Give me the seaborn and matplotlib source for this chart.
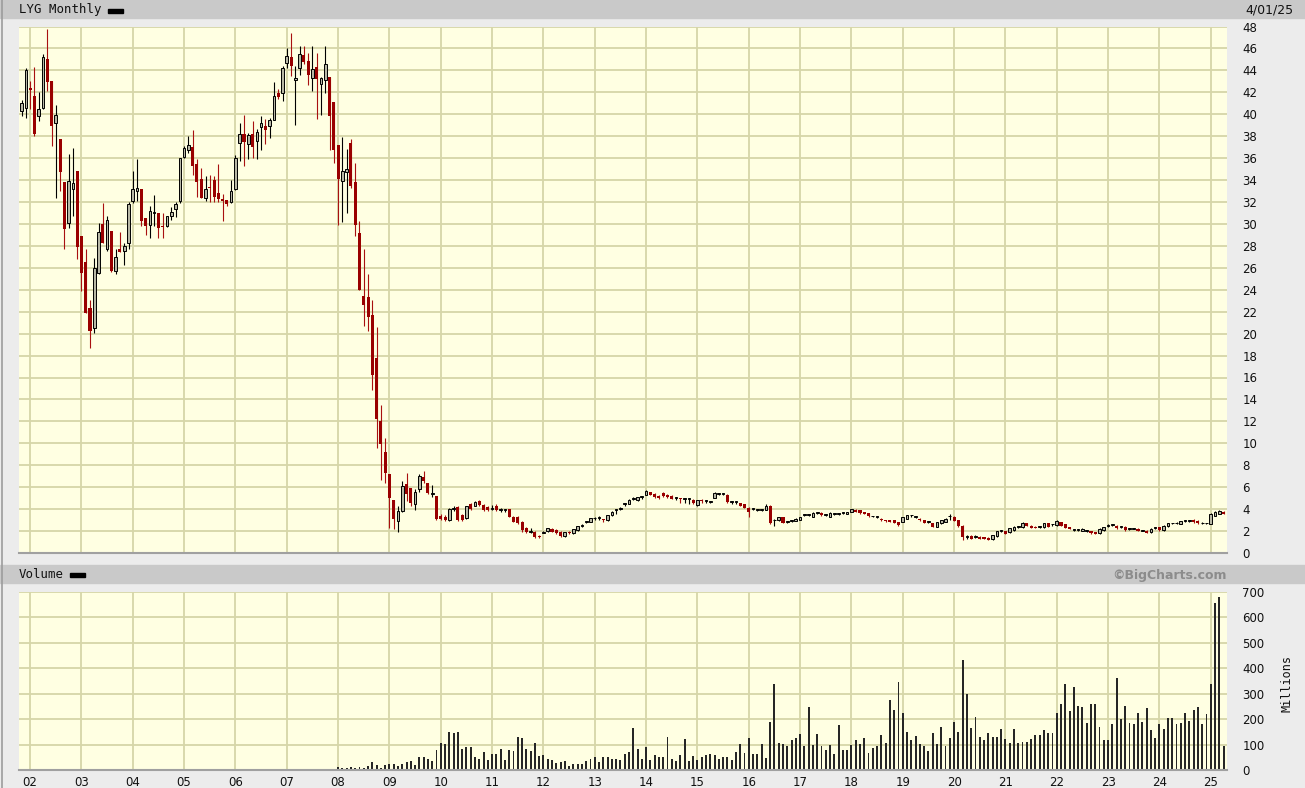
import numpy as np
import pandas as pd
import seaborn as sns
import matplotlib.pyplot as plt
from matplotlib.patches import Rectangle
from matplotlib.lines import Line2D

# monthly bars Nov 2001 .. Apr 2025 (one row per year in the lists below)
months = pd.period_range('2001-11', '2025-04', freq='M')

opens = [
    40.3, 40.6,
    42.4, 41.7, 39.85, 40.6, 45.0, 43.0, 39.2, 37.7, 33.8, 30.1, 33.2, 34.8,
    28.9, 26.5, 22.3, 20.5, 25.5, 29.95, 27.7, 29.4, 25.7, 27.7, 27.5, 28.3,
    32.1, 33.0, 33.2, 30.5, 29.9, 31.0, 31.0, 29.8, 29.8, 30.7, 31.4, 32.1,
    36.1, 36.7, 37.0, 35.5, 34.1, 32.4, 33.4, 34.0, 32.8, 32.3, 32.2, 32.0,
    33.2, 37.4, 38.2, 37.3, 38.2, 37.6, 38.8, 38.9, 38.9, 39.5, 41.9, 41.9,
    44.7, 45.2, 43.1, 44.2, 45.4, 44.9, 43.35, 44.3, 42.8, 43.1, 43.4, 41.1,
    37.2, 33.9, 34.7, 37.4, 33.8, 29.2, 23.4, 23.3, 21.7, 17.8, 12.0, 9.2,
    7.2, 4.8, 2.9, 3.8, 6.3, 5.9, 4.5, 5.8, 6.9, 6.4, 5.4, 5.2,
    3.4, 3.3, 3.0, 4.0, 4.15, 3.45, 3.15, 4.5, 4.3, 4.7, 4.35, 4.2,
    4.05, 4.25, 3.95, 3.9, 4.0, 3.3, 3.3, 2.85, 2.3, 1.95, 1.95, 1.55,
    1.85, 2.0, 2.15, 2.1, 1.95, 1.55, 1.95, 1.8, 2.1, 2.5, 2.8, 2.85,
    3.15, 3.2, 3.05, 3.0, 3.45, 3.9, 4.0, 4.5, 4.5, 4.95, 4.8, 5.1,
    5.33, 5.55, 5.4, 5.2, 5.45, 5.33, 5.24, 5.0, 5.0, 4.95, 4.9, 4.85,
    4.4, 4.8, 4.73, 4.64, 5.05, 5.4, 5.4, 5.33, 4.64, 4.64, 4.55, 4.48,
    4.1, 4.03, 3.94, 3.94, 3.94, 4.24, 2.97, 2.97, 3.27, 2.82, 2.91, 2.91,
    3.03, 3.48, 3.48, 3.27, 3.67, 3.67, 3.48, 3.3, 3.58, 3.58, 3.64, 3.58,
    3.73, 3.94, 3.88, 3.73, 3.64, 3.33, 3.27, 3.12, 3.03, 2.97, 2.97, 2.82,
    2.82, 3.12, 3.42, 3.27, 3.12, 2.97, 2.82, 2.73, 2.36, 2.7, 2.82, 3.33,
    3.3, 3.0, 2.5, 1.5, 1.55, 1.5, 1.5, 1.45, 1.4, 1.25, 1.55, 2.0,
    2.0, 1.9, 2.1, 2.35, 2.35, 2.7, 2.5, 2.4, 2.35, 2.35, 2.7, 2.6,
    2.55, 2.8, 2.6, 2.35, 2.1, 2.1, 2.05, 2.0, 2.0, 1.9, 1.8, 2.1,
    2.5, 2.55, 2.5, 2.35, 2.4, 2.2, 2.2, 2.2, 2.05, 2.05, 1.9, 2.3,
    2.35, 2.1, 2.45, 2.7, 2.7, 2.65, 2.95, 2.95, 3.0, 2.95, 2.7, 2.7,
    2.65, 3.4, 3.6, 3.75,
]

highs = [
    41.3, 44.2,
    43.0, 44.3, 42.0, 45.5, 47.8, 43.0, 40.8, 37.7, 33.8, 36.4, 36.9, 34.8,
    28.9, 27.7, 23.1, 26.9, 30.1, 31.9, 30.7, 29.4, 27.7, 29.3, 28.3, 32.0,
    34.8, 35.9, 33.2, 30.5, 31.6, 32.6, 31.0, 31.0, 30.7, 31.5, 32.0, 36.0,
    37.1, 38.0, 38.6, 35.9, 35.1, 34.4, 34.5, 34.4, 35.5, 32.7, 32.2, 34.0,
    36.3, 39.2, 39.9, 38.3, 39.4, 38.7, 39.8, 39.6, 39.7, 42.9, 42.3, 44.4,
    46.0, 47.4, 44.4, 46.2, 46.2, 45.6, 46.2, 45.6, 43.4, 46.2, 43.4, 41.1,
    37.2, 37.9, 36.8, 37.7, 35.6, 30.3, 27.7, 25.4, 23.1, 20.6, 13.5, 10.5,
    7.2, 4.8, 4.3, 6.6, 7.3, 5.9, 5.8, 7.2, 7.5, 6.4, 6.2, 5.2,
    3.6, 3.5, 4.1, 4.3, 4.3, 3.55, 4.3, 4.6, 4.75, 4.85, 4.45, 4.3,
    4.4, 4.5, 4.1, 4.05, 4.05, 3.35, 3.35, 2.9, 2.4, 2.3, 2.0, 1.65,
    2.05, 2.3, 2.25, 2.15, 2.0, 1.95, 2.0, 2.2, 2.5, 2.65, 2.95, 3.2,
    3.3, 3.35, 3.1, 3.5, 3.85, 4.0, 4.15, 4.6, 4.9, 5.1, 5.15, 5.2,
    5.75, 5.6, 5.5, 5.3, 5.55, 5.4, 5.3, 5.1, 5.05, 5.0, 4.95, 4.9,
    4.85, 4.9, 4.8, 4.75, 5.55, 5.5, 5.5, 5.35, 4.7, 4.7, 4.6, 4.5,
    4.15, 4.1, 4.0, 4.05, 4.48, 4.4, 3.12, 3.3, 3.3, 2.9, 3.0, 3.15,
    3.3, 3.55, 3.55, 3.7, 3.75, 3.75, 3.55, 3.7, 3.65, 3.65, 3.7, 3.75,
    4.05, 3.98, 3.9, 3.75, 3.68, 3.4, 3.35, 3.15, 3.05, 3.0, 3.0, 2.85,
    3.3, 3.45, 3.5, 3.35, 3.15, 3.0, 2.9, 2.75, 2.85, 3.05, 3.15, 3.58,
    3.35, 3.05, 2.55, 1.6, 1.6, 1.6, 1.55, 1.5, 1.45, 1.6, 2.05, 2.1,
    2.05, 2.3, 2.45, 2.45, 2.8, 2.75, 2.55, 2.45, 2.4, 2.75, 2.75, 2.65,
    3.0, 2.85, 2.65, 2.4, 2.2, 2.15, 2.25, 2.1, 2.05, 1.95, 2.25, 2.4,
    2.6, 2.65, 2.55, 2.4, 2.45, 2.25, 2.3, 2.25, 2.1, 2.1, 2.25, 2.35,
    2.4, 2.55, 2.75, 2.75, 2.8, 2.95, 3.05, 3.0, 3.1, 3.0, 2.8, 2.75,
    3.65, 3.8, 3.95, 3.8,
]

lows = [
    39.8, 39.7,
    40.5, 38.0, 39.4, 40.5, 42.1, 37.1, 32.4, 33.0, 27.7, 29.65, 30.7, 26.8,
    23.9, 21.9, 18.7, 20.1, 25.4, 28.3, 27.5, 25.6, 25.4, 27.4, 26.3, 27.7,
    31.9, 32.1, 29.8, 29.0, 28.7, 29.8, 28.7, 28.7, 29.7, 30.4, 30.6, 31.9,
    36.0, 36.5, 34.5, 32.5, 32.4, 32.1, 32.0, 32.0, 32.0, 30.3, 31.6, 31.9,
    33.1, 35.7, 35.3, 35.9, 36.0, 35.9, 36.7, 37.3, 37.8, 39.5, 41.4, 41.2,
    44.2, 43.5, 39.0, 43.6, 44.6, 42.7, 42.1, 39.6, 39.9, 41.9, 36.7, 35.6,
    29.9, 30.2, 31.0, 33.3, 28.9, 24.0, 20.7, 20.2, 14.9, 9.6, 6.7, 6.4,
    2.3, 2.2, 1.9, 3.7, 4.7, 4.3, 3.9, 5.6, 6.4, 5.4, 5.1, 3.0,
    3.0, 2.9, 2.95, 3.8, 2.9, 2.9, 3.1, 3.9, 4.25, 4.3, 3.85, 3.85,
    3.9, 3.85, 3.7, 3.75, 3.25, 2.8, 2.65, 1.9, 1.85, 1.85, 1.4, 1.4,
    1.8, 1.95, 1.9, 1.75, 1.5, 1.5, 1.75, 1.75, 2.05, 2.4, 2.7, 2.8,
    3.05, 3.0, 2.85, 2.95, 3.4, 3.6, 3.9, 4.3, 4.45, 4.8, 4.75, 4.95,
    5.25, 5.3, 5.0, 4.9, 5.1, 5.05, 4.9, 4.85, 4.55, 4.6, 4.5, 4.5,
    4.3, 4.6, 4.6, 4.55, 5.0, 5.3, 5.3, 4.6, 4.5, 4.5, 4.3, 4.1,
    3.3, 3.9, 3.85, 3.85, 3.9, 2.6, 2.5, 2.95, 2.75, 2.75, 2.8, 2.9,
    3.0, 3.4, 3.4, 3.25, 3.6, 3.4, 3.4, 3.28, 3.5, 3.5, 3.55, 3.55,
    3.7, 3.7, 3.6, 3.55, 3.3, 3.25, 3.2, 2.95, 2.85, 2.8, 2.7, 2.5,
    2.8, 3.1, 3.3, 3.2, 2.95, 2.75, 2.75, 2.35, 2.35, 2.65, 2.8, 3.0,
    2.9, 2.4, 1.2, 1.25, 1.3, 1.4, 1.3, 1.25, 1.15, 1.2, 1.5, 1.9,
    1.75, 1.85, 2.05, 2.3, 2.3, 2.5, 2.3, 2.3, 2.3, 2.3, 2.4, 2.5,
    2.5, 2.5, 2.3, 2.2, 2.0, 2.0, 2.0, 1.95, 1.75, 1.7, 1.75, 2.05,
    2.4, 2.5, 2.2, 2.25, 2.05, 2.1, 2.15, 2.0, 2.0, 1.8, 1.85, 2.2,
    2.05, 2.05, 2.4, 2.6, 2.6, 2.6, 2.85, 2.8, 2.75, 2.65, 2.6, 2.6,
    2.6, 3.35, 3.55, 3.55,
]

closes = [
    41.0, 44.0,
    42.2, 38.2, 40.5, 45.2, 42.9, 38.9, 39.9, 34.7, 29.5, 33.9, 33.7, 27.9,
    25.5, 21.9, 20.2, 26.0, 29.3, 28.3, 30.4, 25.7, 27.0, 27.4, 28.0, 31.8,
    33.2, 33.3, 30.3, 29.8, 31.2, 31.1, 29.6, 29.7, 30.7, 31.1, 31.8, 36.0,
    36.9, 37.2, 35.3, 33.8, 32.4, 33.2, 33.3, 32.5, 32.3, 32.1, 31.8, 33.0,
    36.0, 38.2, 37.5, 38.1, 37.0, 38.4, 39.2, 38.6, 39.5, 41.7, 41.6, 44.2,
    45.3, 44.4, 43.35, 45.5, 44.8, 43.6, 44.1, 43.2, 43.35, 44.6, 39.8, 36.7,
    34.1, 34.8, 35.0, 33.5, 29.9, 24.0, 22.6, 21.5, 16.2, 12.2, 9.9, 7.3,
    5.0, 3.1, 3.8, 6.1, 5.4, 4.6, 5.6, 7.0, 6.6, 5.5, 5.4, 3.1,
    3.1, 3.05, 4.0, 4.05, 3.0, 3.0, 4.25, 4.05, 4.65, 4.35, 3.9, 3.9,
    4.1, 3.9, 4.0, 3.9, 3.3, 2.85, 2.7, 2.1, 1.95, 2.05, 1.5, 1.5,
    1.95, 2.25, 1.95, 1.8, 1.55, 1.95, 1.8, 2.15, 2.45, 2.55, 2.85, 3.15,
    3.15, 3.2, 3.0, 3.45, 3.75, 3.9, 4.05, 4.5, 4.85, 4.95, 5.1, 5.1,
    5.64, 5.33, 5.1, 5.0, 5.2, 5.1, 4.94, 5.0, 4.95, 4.95, 4.9, 4.55,
    4.8, 4.75, 4.73, 4.64, 5.45, 5.4, 5.4, 4.64, 4.64, 4.64, 4.33, 4.12,
    3.7, 4.03, 3.94, 3.94, 4.33, 2.73, 2.97, 3.27, 2.76, 2.82, 2.91, 3.12,
    3.27, 3.48, 3.48, 3.67, 3.67, 3.42, 3.48, 3.67, 3.58, 3.58, 3.64, 3.73,
    4.03, 3.73, 3.64, 3.58, 3.33, 3.33, 3.27, 2.97, 2.88, 2.82, 2.73, 2.52,
    3.27, 3.42, 3.42, 3.27, 2.97, 2.76, 2.82, 2.36, 2.82, 3.03, 3.12, 3.33,
    2.95, 2.45, 1.45, 1.5, 1.3, 1.5, 1.3, 1.25, 1.15, 1.6, 2.05, 2.0,
    1.75, 2.3, 2.4, 2.35, 2.75, 2.5, 2.3, 2.3, 2.35, 2.7, 2.4, 2.6,
    2.9, 2.5, 2.3, 2.2, 2.1, 2.1, 2.2, 2.0, 1.8, 1.75, 2.2, 2.35,
    2.5, 2.55, 2.3, 2.35, 2.1, 2.2, 2.2, 2.05, 2.05, 1.85, 2.2, 2.3,
    2.1, 2.5, 2.7, 2.7, 2.7, 2.9, 2.95, 2.95, 2.8, 2.7, 2.7, 2.7,
    3.6, 3.75, 3.85, 3.6,
]

# volume, millions of shares
volume = [
    0.3, 0.3,
    0.4, 0.3, 0.5, 0.4, 0.3, 0.5, 0.6, 0.4, 0.5, 0.6, 0.4, 0.5,
    0.6, 0.5, 0.7, 0.5, 0.4, 0.5, 0.6, 0.5, 0.4, 0.5, 0.4, 0.5,
    0.4, 0.5, 0.6, 0.4, 0.5, 0.4, 0.3, 0.4, 0.5, 0.4, 0.4, 0.5,
    0.5, 0.4, 0.6, 0.5, 0.4, 0.5, 0.4, 0.5, 0.6, 0.5, 0.4, 0.5,
    0.6, 0.5, 0.7, 0.6, 0.8, 0.7, 3.5, 0.8, 0.7, 0.9, 0.8, 0.9,
    1.0, 3.5, 1.2, 1.0, 1.1, 1.3, 3.0, 3.5, 1.5, 1.8, 4.0, 3.5,
    12, 9, 8, 11, 9, 12, 9, 16, 30, 21, 9, 20,
    22, 25, 16, 24, 31, 35, 20, 51, 51, 44, 37, 80,
    107, 101, 151, 144, 151, 84, 91, 91, 51, 44, 71, 40,
    64, 64, 84, 40, 80, 75, 131, 124, 84, 75, 107, 57,
    60, 44, 40, 27, 31, 35, 15, 24, 24, 24, 35, 44,
    51, 31, 51, 53, 44, 44, 40, 64, 71, 164, 84, 44,
    91, 40, 60, 51, 51, 131, 44, 35, 60, 120, 35, 55,
    40, 51, 60, 64, 60, 44, 51, 51, 40, 71, 104, 67,
    127, 63, 63, 103, 47, 187, 337, 107, 103, 93, 117, 127,
    143, 93, 247, 97, 143, 93, 80, 97, 63, 177, 77, 77,
    97, 117, 103, 127, 67, 87, 93, 137, 107, 277, 237, 347,
    223, 151, 117, 133, 103, 93, 73, 147, 103, 171, 93, 127,
    187, 151, 431, 297, 167, 207, 131, 117, 147, 131, 131, 163,
    123, 107, 163, 107, 111, 111, 123, 136, 136, 157, 147, 145,
    225, 260, 338, 233, 325, 253, 249, 183, 259, 259, 170, 119,
    119, 180, 362, 199, 253, 183, 179, 223, 187, 243, 159, 127,
    179, 163, 203, 203, 179, 183, 223, 194, 236, 247, 179, 219,
    338, 656, 680, 94,
]

year_labels = ['%02d' % y for y in range(2, 26)]
price_ticks = list(range(0, 49, 2))
volume_ticks = list(range(0, 701, 100))

sns.set_style('white')
plt.rcParams['font.family'] = ['DejaVu Sans']

W, H = 1305, 788
BG = '#ececec'
BAND = '#c9c9c9'
PANEL = '#ffffe2'
GRID = '#d6d6a8'
RED = '#990000'
UPFILL = '#b8b8a6'

df = pd.DataFrame({'month': months, 'open': opens, 'high': highs,
                   'low': lows, 'close': closes, 'volume': volume})
df['t'] = (df['month'].dt.year - 2002) * 12 + df['month'].dt.month - 1
df['up'] = df['close'] >= df['open']
df['body_lo'] = df[['open', 'close']].min(axis=1)
df['body_h'] = (df['close'] - df['open']).abs().clip(lower=0.08)


def px_box(x0, y0, x1, y1):
    # pixel box with top-left origin -> figure rect
    return [x0 / W, 1 - y1 / H, (x1 - x0) / W, (y1 - y0) / H]


fig = plt.figure(figsize=(W / 100, H / 100), dpi=100, facecolor=BG)

# grey title bands
for y0, y1 in [(0, 18), (565, 583)]:
    r = px_box(0, y0, W, y1)
    fig.add_artist(Rectangle(r[:2], r[2], r[3], transform=fig.transFigure,
                             color=BAND, zorder=0))
fig.add_artist(Line2D([1.5 / W, 1.5 / W], [0, 1], transform=fig.transFigure,
                      color='#9c9c9c', lw=1.2))

ax1 = fig.add_axes(px_box(19, 26.5, 1227, 553))
ax2 = fig.add_axes(px_box(19, 592, 1227, 770))

# candles
up = df[df['up']]
dn = df[~df['up']]
ax1.vlines(dn['t'], dn['low'], dn['high'], color='#a81010', lw=0.8, zorder=2)
ax1.vlines(up['t'], up['low'], up['high'], color='black', lw=0.8, zorder=2)
ax1.bar(dn['t'], dn['body_h'], bottom=dn['body_lo'], width=0.72,
        color=RED, lw=0, zorder=3)
ax1.bar(up['t'], up['body_h'], bottom=up['body_lo'], width=0.62,
        facecolor=UPFILL, edgecolor='black', lw=0.7, zorder=3)

# volume
sns.barplot(data=df, x='t', y='volume', native_scale=True, width=0.45,
            color='#262626', saturation=1, errorbar=None, linewidth=0, ax=ax2)
ax2.set_xlabel('')
ax2.set_ylabel('')

for ax in (ax1, ax2):
    ax.set_facecolor(PANEL)
    ax.set_xlim(-2.6, 279.8)
    ax.set_xticks(np.arange(0, 277, 12))
    ax.grid(True, color=GRID, lw=1.3)
    ax.set_axisbelow(True)
    ax.yaxis.tick_right()
    ax.tick_params(length=0, labelsize=8.5, colors='#111111')
    for s in ax.spines.values():
        s.set_visible(False)
    ax.spines['bottom'].set_visible(True)
    ax.spines['bottom'].set_color('#a0a0a0')
    ax.spines['bottom'].set_linewidth(1.5)

ax1.set_ylim(0, 48)
ax1.set_yticks(price_ticks)
ax1.set_xticklabels([])
ax1.tick_params(axis='y', pad=11)

ax2.set_ylim(0, 700)
ax2.set_yticks(volume_ticks)
ax2.set_xticklabels(year_labels)
ax2.tick_params(axis='y', pad=11)
ax2.tick_params(axis='x', pad=4)

# titles and labels
mono = 'DejaVu Sans Mono'
fig.text(19 / W, 1 - 10 / H, 'LYG Monthly', family=mono, fontsize=8.9,
         va='center', ha='left', color='#111111')
r = px_box(108, 8.7, 123, 12.7)
fig.add_artist(Rectangle(r[:2], r[2], r[3], transform=fig.transFigure, color='black'))
fig.text(1293 / W, 1 - 10 / H, '4/01/25', fontsize=9, va='center', ha='right',
         color='#111111')

fig.text(19 / W, 1 - 575 / H, 'Volume', family=mono, fontsize=8.9,
         va='center', ha='left', color='#111111')
r = px_box(70, 573, 85, 577)
fig.add_artist(Rectangle(r[:2], r[2], r[3], transform=fig.transFigure, color='black'))
fig.text(1227 / W, 1 - 575 / H, '\u00a9BigCharts.com', fontsize=9,
         fontweight='bold', va='center', ha='right', color='#8c8c8c')
fig.text(1287 / W, 1 - 683 / H, 'Millions', family=mono, fontsize=8.5,
         rotation=90, va='center', ha='center', color='#111111')

fig.savefig('out.png', dpi=100, facecolor=BG)
